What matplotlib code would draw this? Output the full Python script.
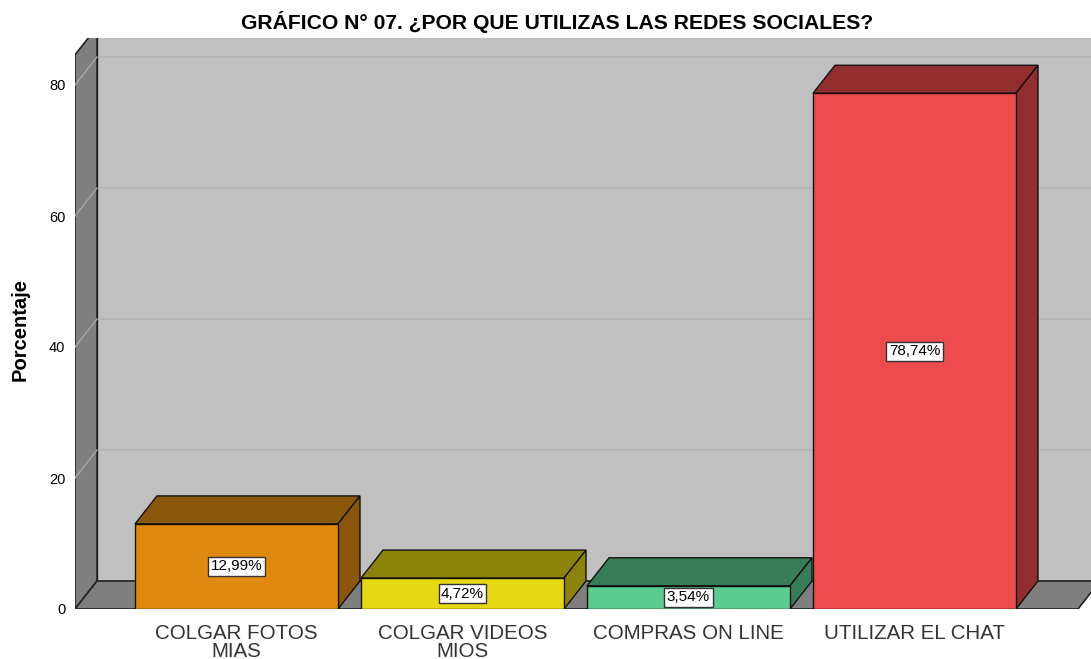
import matplotlib.pyplot as plt
from matplotlib.patches import Polygon

categories = ['COLGAR FOTOS\nMIAS', 'COLGAR VIDEOS\nMIOS', 'COMPRAS ON LINE', 'UTILIZAR EL CHAT']
values = [12.99, 4.72, 3.54, 78.74]
labels = ['12,99%', '4,72%', '3,54%', '78,74%']
front_colors = ['#E0890F', '#E6D812', '#5BCB8E', '#EE4B4C']
dark_colors = ['#8A5609', '#8C840A', '#377D55', '#922D2F']
yticks = [0, 20, 40, 60, 80]

plt.rcParams['font.family'] = ['Liberation Sans', 'DejaVu Sans']

fig = plt.figure(figsize=(10.91, 6.59), dpi=100)
W, H = 1091, 659
ax = fig.add_axes([75 / W, (H - 609) / H, (1091 - 75) / W, (609 - 38) / H])

# pixel scales
px_x = 226.0           # pixels per category
px_y = 131.0 / 20      # pixels per percent
x0 = (75 - 236.5) / px_x
x1 = (1091 - 236.5) / px_x
ytop = (609 - 38) / px_y
dx = 22 / px_x         # depth offset
dy = 28 / px_y
bw = 203 / px_x

ax.set_xlim(x0, x1)
ax.set_ylim(0, ytop)

wall_gray = '#C0C0C0'
side_gray = '#7F7F7F'

# back wall
ax.add_patch(Polygon([(x0 + dx, dy), (x0 + dx, ytop + 5), (x1 + 1, ytop + 5), (x1 + 1, dy)],
                     closed=True, facecolor=wall_gray, edgecolor='#222222', lw=1, zorder=1))
# left wall
ax.add_patch(Polygon([(x0, 0), (x0, 84.6), (x0 + dx, 84.6 + dy), (x0 + dx, dy)],
                     closed=True, facecolor=side_gray, edgecolor='#222222', lw=1.2, zorder=2))
# floor
floor_r = (1078 - 236.5) / px_x
ax.add_patch(Polygon([(x0, 0), (floor_r, 0), (floor_r + dx, dy), (x0 + dx, dy)],
                     closed=True, facecolor=side_gray, edgecolor='#222222', lw=1.2, zorder=2))

# grid lines on back and left wall
for t in yticks[1:]:
    ax.plot([x0 + dx, x1], [t + dy, t + dy], color='#B4B4B4', lw=1.2, zorder=1.5)
    ax.plot([x0, x0 + dx], [t, t + dy], color='#A8A8A8', lw=1, zorder=2.5)

# 3D bars
xs = list(range(len(values)))
ax.bar(xs, values, width=bw, color=front_colors, edgecolor='#111111', lw=1, zorder=5)
for i, v in enumerate(values):
    l, r = i - bw / 2, i + bw / 2
    ax.add_patch(Polygon([(l, v), (l + dx, v + dy), (r + dx, v + dy), (r, v)],
                         closed=True, facecolor=dark_colors[i], edgecolor='#111111', lw=1, zorder=4))
    ax.add_patch(Polygon([(r, 0), (r, v), (r + dx, v + dy), (r + dx, dy)],
                         closed=True, facecolor=dark_colors[i], edgecolor='#111111', lw=1, zorder=4))
    ax.text(i, v / 2, labels[i], ha='center', va='center', fontsize=11, color='black', zorder=6,
            bbox=dict(boxstyle='square,pad=0.16', facecolor='white', edgecolor='#333333', lw=1))

ax.set_xticks(xs)
ax.set_xticklabels(categories, fontsize=14.8, color='#333333', linespacing=0.9)
ax.set_yticks(yticks)
ax.set_yticklabels([str(t) for t in yticks], fontsize=10.5)
ax.tick_params(axis='both', length=0)
ax.tick_params(axis='x', pad=11)
ax.tick_params(axis='y', pad=7)
for s in ax.spines.values():
    s.set_visible(False)

ax.set_ylabel('Porcentaje', fontsize=14.5, fontweight='bold')
ax.yaxis.set_label_coords(-45 / 1016, 0.49)

fig.text(557 / W, 1 - 22 / H, 'GRÁFICO N° 07. ¿POR QUE UTILIZAS LAS REDES SOCIALES?',
         ha='center', va='center', fontsize=15.2, fontweight='bold')

fig.savefig('out.png', dpi=100)
